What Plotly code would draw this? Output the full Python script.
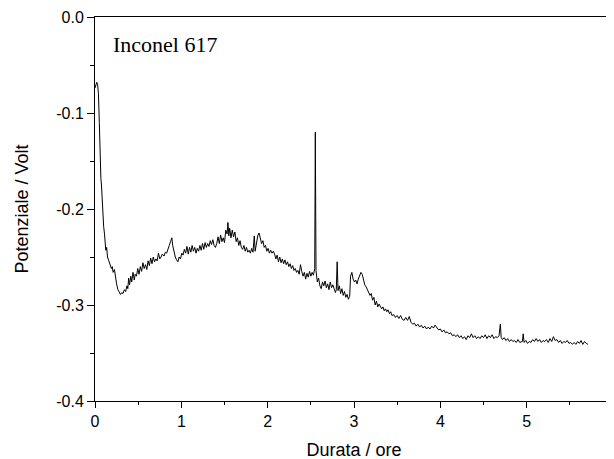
import plotly.graph_objects as go

hours = [
0.000,0.010,0.020,0.030,0.040,0.050,0.060,0.068,0.075,0.085,0.095,0.100,0.110,0.120,0.125,0.135,0.145,0.160,0.175,0.190,
0.200,0.210,0.225,0.235,0.250,0.265,0.280,0.295,0.310,0.325,0.340,0.355,0.370,0.380,0.390,0.400,0.415,0.425,0.440,0.455,
0.465,0.480,0.495,0.510,0.525,0.540,0.555,0.570,0.585,0.600,0.615,0.630,0.645,0.660,0.675,0.690,0.705,0.720,0.735,0.750,
0.765,0.780,0.800,0.815,0.830,0.845,0.860,0.875,0.890,0.900,0.915,0.930,0.945,0.960,0.975,0.990,1.005,1.020,1.035,1.050,
1.065,1.080,1.095,1.110,1.125,1.140,1.155,1.170,1.185,1.200,1.215,1.230,1.245,1.260,1.275,1.290,1.305,1.320,1.335,1.350,
1.365,1.380,1.395,1.410,1.425,1.440,1.455,1.470,1.485,1.500,1.515,1.530,1.540,1.550,1.560,1.575,1.590,1.605,1.620,1.635,
1.650,1.665,1.680,1.695,1.710,1.725,1.740,1.755,1.770,1.785,1.800,1.815,1.830,1.845,1.855,1.870,1.885,1.900,1.915,1.930,
1.945,1.960,1.975,1.990,2.005,2.020,2.035,2.050,2.065,2.080,2.095,2.110,2.125,2.140,2.155,2.170,2.185,2.200,2.215,2.230,
2.245,2.260,2.275,2.290,2.305,2.320,2.335,2.350,2.365,2.380,2.395,2.410,2.425,2.440,2.455,2.470,2.485,2.500,2.515,2.530,
2.545,2.552,2.560,2.575,2.590,2.605,2.620,2.635,2.650,2.665,2.680,2.695,2.710,2.725,2.740,2.755,2.770,2.785,2.795,2.805,
2.815,2.830,2.845,2.860,2.875,2.890,2.905,2.920,2.935,2.950,2.960,2.975,2.990,3.005,3.020,3.035,3.050,3.065,3.080,3.095,
3.110,3.125,3.140,3.155,3.170,3.185,3.200,3.215,3.230,3.245,3.260,3.275,3.290,3.305,3.320,3.335,3.350,3.365,3.380,3.395,
3.410,3.425,3.440,3.460,3.480,3.500,3.520,3.540,3.560,3.580,3.600,3.620,3.640,3.660,3.680,3.700,3.720,3.740,3.760,3.780,
3.800,3.820,3.840,3.860,3.880,3.900,3.920,3.940,3.960,3.980,4.000,4.020,4.040,4.060,4.080,4.100,4.120,4.140,4.160,4.180,
4.200,4.220,4.240,4.260,4.280,4.300,4.320,4.340,4.360,4.380,4.400,4.420,4.440,4.460,4.480,4.500,4.520,4.540,4.560,4.580,
4.600,4.620,4.640,4.660,4.680,4.695,4.705,4.720,4.740,4.760,4.780,4.800,4.820,4.840,4.860,4.880,4.900,4.920,4.950,4.960,
4.970,4.990,5.010,5.030,5.050,5.070,5.090,5.110,5.130,5.150,5.170,5.190,5.210,5.230,5.250,5.270,5.290,5.310,5.330,5.350,
5.370,5.390,5.410,5.430,5.450,5.470,5.490,5.510,5.530,5.550,5.570,5.590,5.610,5.630,5.650,5.670,5.690,5.710,
]

potential = [
-0.074,-0.070,-0.068,-0.070,-0.080,-0.110,-0.150,-0.168,-0.175,-0.195,-0.210,-0.218,-0.226,-0.238,-0.243,-0.240,-0.250,-0.254,-0.258,-0.262,
-0.260,-0.266,-0.263,-0.272,-0.278,-0.284,-0.286,-0.289,-0.287,-0.288,-0.284,-0.286,-0.280,-0.283,-0.272,-0.279,-0.270,-0.276,-0.266,-0.274,
-0.268,-0.270,-0.262,-0.268,-0.260,-0.265,-0.256,-0.262,-0.258,-0.263,-0.254,-0.259,-0.251,-0.257,-0.250,-0.255,-0.252,-0.254,-0.246,-0.252,
-0.250,-0.247,-0.249,-0.245,-0.246,-0.241,-0.238,-0.234,-0.230,-0.238,-0.246,-0.250,-0.253,-0.255,-0.250,-0.252,-0.246,-0.248,-0.242,-0.246,
-0.239,-0.247,-0.240,-0.245,-0.238,-0.244,-0.240,-0.246,-0.241,-0.244,-0.238,-0.243,-0.236,-0.242,-0.235,-0.240,-0.236,-0.239,-0.233,-0.237,
-0.232,-0.238,-0.240,-0.236,-0.229,-0.236,-0.227,-0.234,-0.230,-0.235,-0.222,-0.226,-0.214,-0.228,-0.220,-0.230,-0.222,-0.229,-0.224,-0.234,
-0.230,-0.238,-0.233,-0.240,-0.242,-0.238,-0.244,-0.240,-0.245,-0.243,-0.246,-0.241,-0.245,-0.228,-0.244,-0.236,-0.228,-0.225,-0.232,-0.236,
-0.233,-0.240,-0.238,-0.244,-0.241,-0.246,-0.243,-0.246,-0.244,-0.247,-0.252,-0.248,-0.255,-0.250,-0.256,-0.252,-0.257,-0.253,-0.258,-0.255,
-0.260,-0.257,-0.262,-0.259,-0.264,-0.262,-0.266,-0.264,-0.268,-0.258,-0.265,-0.270,-0.266,-0.273,-0.267,-0.271,-0.265,-0.270,-0.266,-0.269,
-0.262,-0.120,-0.264,-0.276,-0.272,-0.280,-0.283,-0.276,-0.280,-0.275,-0.282,-0.278,-0.284,-0.276,-0.282,-0.279,-0.283,-0.287,-0.284,-0.255,
-0.285,-0.280,-0.288,-0.283,-0.290,-0.286,-0.292,-0.289,-0.294,-0.291,-0.270,-0.266,-0.273,-0.276,-0.274,-0.278,-0.273,-0.270,-0.266,-0.268,
-0.274,-0.279,-0.281,-0.284,-0.286,-0.290,-0.288,-0.295,-0.292,-0.300,-0.296,-0.302,-0.299,-0.301,-0.304,-0.302,-0.306,-0.304,-0.307,-0.305,
-0.309,-0.307,-0.311,-0.310,-0.313,-0.311,-0.314,-0.311,-0.315,-0.316,-0.313,-0.316,-0.312,-0.318,-0.320,-0.319,-0.322,-0.320,-0.323,-0.321,
-0.324,-0.322,-0.325,-0.323,-0.325,-0.322,-0.324,-0.321,-0.324,-0.326,-0.325,-0.328,-0.326,-0.329,-0.328,-0.330,-0.329,-0.332,-0.331,-0.333,
-0.331,-0.334,-0.332,-0.335,-0.333,-0.336,-0.332,-0.334,-0.330,-0.334,-0.332,-0.335,-0.333,-0.335,-0.332,-0.334,-0.331,-0.335,-0.332,-0.334,
-0.331,-0.335,-0.333,-0.334,-0.332,-0.320,-0.334,-0.336,-0.334,-0.337,-0.335,-0.338,-0.336,-0.338,-0.337,-0.339,-0.336,-0.339,-0.338,-0.330,
-0.339,-0.337,-0.340,-0.338,-0.339,-0.336,-0.338,-0.335,-0.338,-0.336,-0.339,-0.337,-0.338,-0.336,-0.339,-0.335,-0.338,-0.333,-0.337,-0.336,
-0.339,-0.337,-0.340,-0.338,-0.339,-0.337,-0.340,-0.339,-0.341,-0.339,-0.341,-0.338,-0.340,-0.337,-0.341,-0.338,-0.340,-0.341,
]

x_ticks = [0, 1, 2, 3, 4, 5, 6]
y_ticks = [0.0, -0.1, -0.2, -0.3, -0.4]
y_tick_labels = ["0.0", "-0.1", "-0.2", "-0.3", "-0.4"]

fig = go.Figure()
fig.add_trace(go.Scatter(
    x=hours, y=potential, mode="lines",
    line=dict(color="black", width=1),
    showlegend=False, hoverinfo="skip",
))

fig.add_annotation(
    x=0.030, y=-0.029, xref="paper", yref="y",
    text="Inconel 617", showarrow=False, xanchor="left", yanchor="middle",
    font=dict(family="Liberation Serif", size=22, color="black"),
)

tick_font = dict(family="Liberation Sans, Arial", size=16, color="black")
title_font = dict(family="Liberation Sans, Arial", size=18, color="black")
fig.update_layout(
    width=614, height=459,
    margin=dict(l=87, r=9, t=9, b=66),
    paper_bgcolor="white", plot_bgcolor="white",
    font=tick_font,
    xaxis=dict(
        range=[0, 6], tickvals=x_ticks, ticktext=[str(v) for v in x_ticks],
        showgrid=False, zeroline=False,
        showline=True, linecolor="black", linewidth=1, mirror=True,
        ticks="outside", ticklen=6, tickcolor="black", tickwidth=1,
        minor=dict(ticks="outside", ticklen=3, dtick=0.5, tick0=0, tickcolor="black", showgrid=False),
        title=dict(text="Durata / ore", font=title_font, standoff=14),
        tickfont=tick_font, automargin=False,
    ),
    yaxis=dict(
        range=[-0.4, 0.0], tickvals=y_ticks, ticktext=y_tick_labels,
        showgrid=False, zeroline=False,
        showline=True, linecolor="black", linewidth=1, mirror=False,
        ticks="outside", ticklen=7, tickcolor="black", tickwidth=1,
        minor=dict(ticks="outside", ticklen=4, dtick=0.05, tick0=0, tickcolor="black", showgrid=False),
        title=dict(text="Potenziale / Volt", font=title_font, standoff=22),
        tickfont=tick_font, automargin=False,
    ),
)

fig.write_html("out.html")
